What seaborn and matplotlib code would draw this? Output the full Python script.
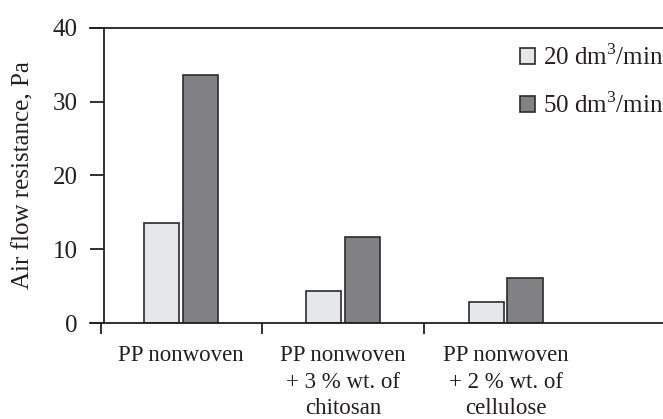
import matplotlib
matplotlib.use("Agg")
import matplotlib.pyplot as plt
import pandas as pd
import seaborn as sns

categories = ["PP nonwoven", "PP nonwoven\n+ 3 % wt. of\nchitosan", "PP nonwoven\n+ 2 % wt. of\ncellulose"]
flow_20 = [13.6, 4.3, 2.9]
flow_50 = [33.6, 11.6, 6.1]
series = ["20 dm$^3$/min", "50 dm$^3$/min"]
yticks = [0, 10, 20, 30, 40]

df = pd.DataFrame({
    "sample": categories * 2,
    "value": flow_20 + flow_50,
    "flow": [series[0]] * 3 + [series[1]] * 3,
})

sns.set_style("white")
plt.rcParams["font.family"] = ["Liberation Serif", "DejaVu Serif"]
plt.rcParams["mathtext.fontset"] = "custom"
plt.rcParams["mathtext.rm"] = "Liberation Serif"

fig = plt.figure(figsize=(6.63, 4.19), dpi=100)
ax = fig.add_axes([90 / 663, 1 - 323 / 419, (663 - 90) / 663, (323 - 28) / 419])

sns.barplot(data=df, x="sample", y="value", hue="flow", order=categories,
            hue_order=series, palette=["#e6e7e8", "#808184"], width=0.48,
            gap=0.1, edgecolor="#2b2b2b", linewidth=1.2, ax=ax)

ax.set_xlim(-0.56, 2.97)
ax.set_ylim(0, 40)
ax.set_yticks(yticks)
ax.set_xlabel("")
ax.set_ylabel("Air flow resistance, Pa", fontsize=18, color="#231f20", labelpad=13)

ax.spines["right"].set_visible(False)
ax.spines["left"].set_position(("data", -0.474))
for s in ["left", "top", "bottom"]:
    ax.spines[s].set_color("#231f20")
    ax.spines[s].set_linewidth(1.3)

ax.tick_params(axis="y", direction="out", length=10, width=1.3, colors="#231f20",
               labelsize=18, left=True, pad=9)
ax.tick_params(axis="x", which="major", length=0, labelsize=16.5, colors="#231f20", pad=16)
ax.set_xticks([-0.49, 0.5, 1.5], minor=True)
ax.tick_params(axis="x", which="minor", direction="out", length=8, width=1.3,
               color="#231f20", bottom=True)
for lbl in ax.get_xticklabels():
    lbl.set_linespacing(1.35)

leg = ax.legend(loc="upper right", frameon=False, fontsize=18, handlelength=0.6,
                handleheight=0.6, handletextpad=0.3, labelspacing=0.9,
                borderpad=0, borderaxespad=0, bbox_to_anchor=(1.0, 0.945))
for t in leg.get_texts():
    t.set_color("#231f20")

fig.savefig("out.png", dpi=100)
